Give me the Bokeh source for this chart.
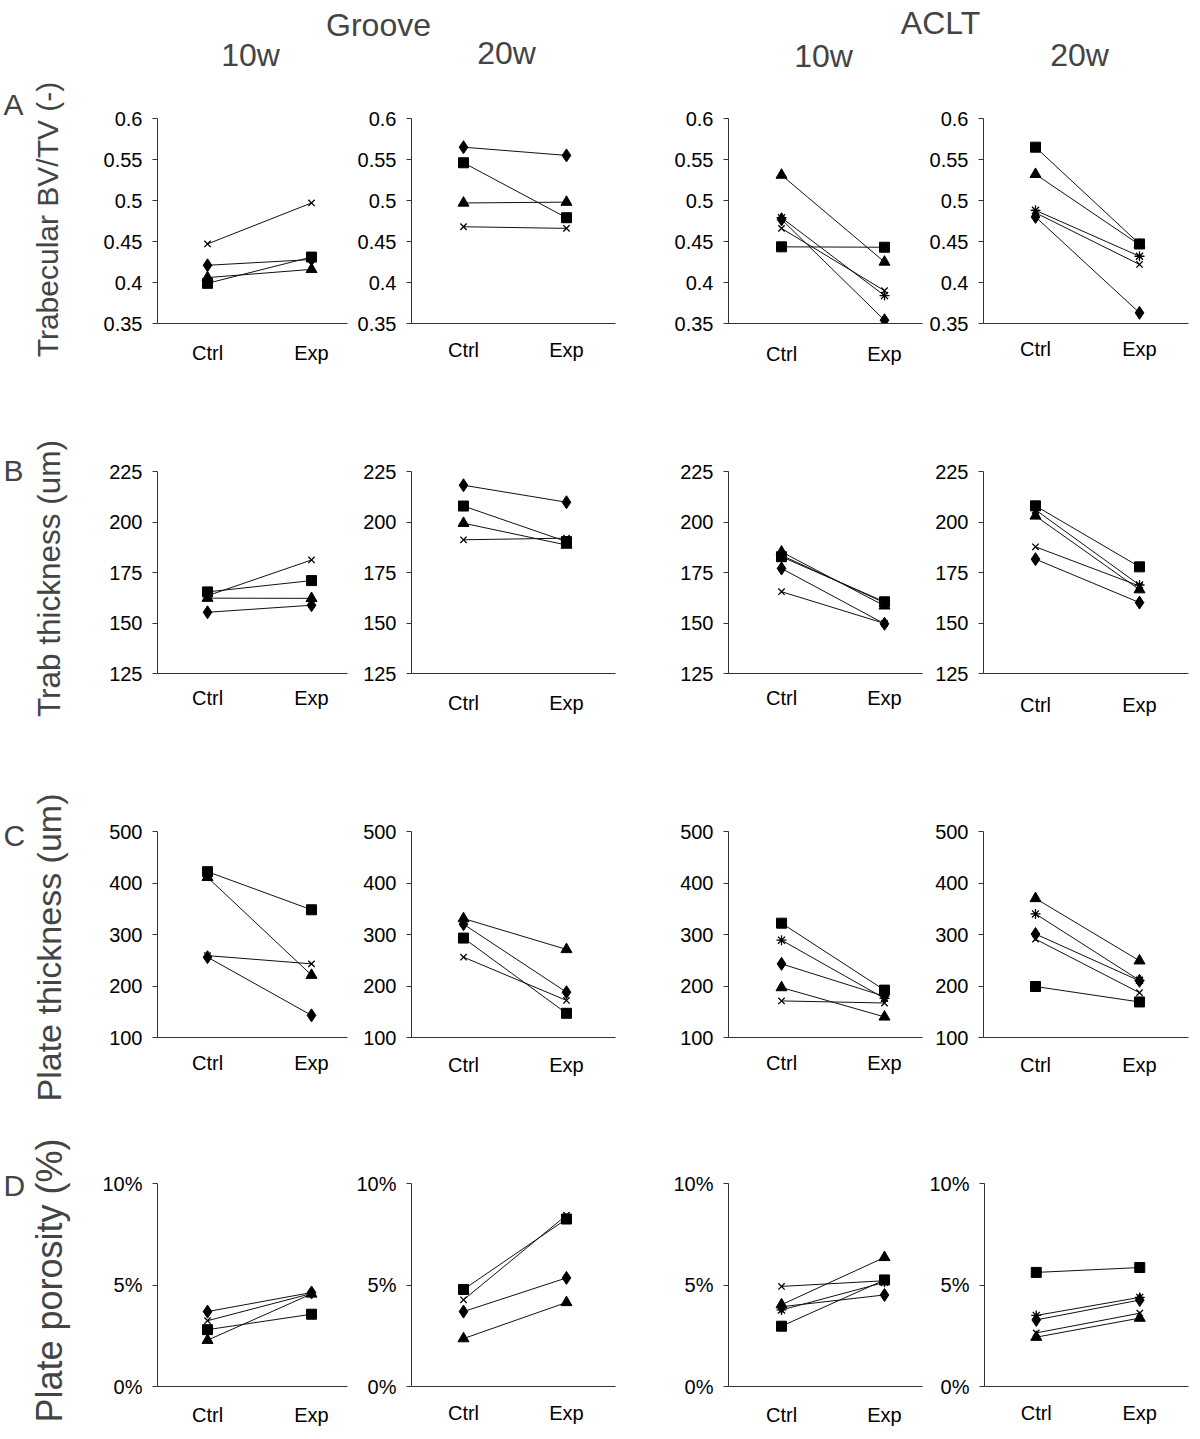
import math
from bokeh.plotting import figure
from bokeh.models import Range1d, FixedTicker, Label
from bokeh.layouts import row, column
from bokeh.embed import file_html
from bokeh.resources import INLINE

FONT = "Liberation Sans"

# ---------------- data ----------------
categories = ["Ctrl", "Exp"]
series_markers = ["diamond", "square", "triangle", "x", "asterisk"]

# Row A: Trabecular BV/TV (-)
bvtv_groove10_ctrl = [0.421, 0.399, 0.406, 0.447]
bvtv_groove10_exp = [0.428, 0.431, 0.416, 0.497]
bvtv_groove20_ctrl = [0.565, 0.546, 0.497, 0.468]
bvtv_groove20_exp = [0.555, 0.479, 0.498, 0.466]
bvtv_aclt10_ctrl = [0.477, 0.4435, 0.531, 0.466, 0.479]
bvtv_aclt10_exp = [0.354, 0.443, 0.425, 0.390, 0.384]
bvtv_aclt20_ctrl = [0.480, 0.565, 0.532, 0.485, 0.488]
bvtv_aclt20_exp = [0.363, 0.447, 0.446, 0.422, 0.432]

# Row B: Trab thickness (um)
tbth_groove10_ctrl = [155.3, 165.4, 162.3, 163.5]
tbth_groove10_exp = [158.8, 171.0, 162.2, 181.2]
tbth_groove20_ctrl = [218.2, 207.9, 199.4, 191.2]
tbth_groove20_exp = [209.8, 190.3, 188.6, 192.0]
tbth_aclt10_ctrl = [177.0, 182.8, 185.2, 165.5, 183.5]
tbth_aclt10_exp = [149.6, 160.5, 158.5, 149.8, 160.0]
tbth_aclt20_ctrl = [181.6, 208.0, 203.0, 187.7, 206.0]
tbth_aclt20_exp = [160.1, 177.8, 166.5, 168.3, 168.8]

# Row C: Plate thickness (um)
plth_groove10_ctrl = [256, 422, 411, 259]
plth_groove10_exp = [143, 348, 221, 243]
plth_groove20_ctrl = [320, 293, 331, 256]
plth_groove20_exp = [188, 147, 271, 172]
plth_aclt10_ctrl = [243, 322, 197, 171, 289]
plth_aclt10_exp = [180, 192, 140, 167, 176]
plth_aclt20_ctrl = [301, 199, 370, 291, 340]
plth_aclt20_exp = [210, 169, 249, 187, 211]

# Row D: Plate porosity (%)
poro_groove10_ctrl = [3.69, 2.80, 2.28, 3.24]
poro_groove10_exp = [4.63, 3.56, 4.56, 4.58]
poro_groove20_ctrl = [3.69, 4.78, 2.36, 4.27]
poro_groove20_exp = [5.35, 8.25, 4.14, 8.44]
poro_aclt10_ctrl = [3.93, 2.97, 4.03, 4.93, 3.77]
poro_aclt10_exp = [4.51, 5.25, 6.36, 5.21, 5.13]
poro_aclt20_ctrl = [3.28, 5.62, 2.43, 2.64, 3.50]
poro_aclt20_exp = [4.26, 5.86, 3.37, 3.61, 4.39]

bvtv_ticks = [0.35, 0.4, 0.45, 0.5, 0.55, 0.6]
bvtv_tick_labels = ["0.35", "0.4", "0.45", "0.5", "0.55", "0.6"]
tbth_ticks = [125, 150, 175, 200, 225]
tbth_tick_labels = ["125", "150", "175", "200", "225"]
plth_ticks = [100, 200, 300, 400, 500]
plth_tick_labels = ["100", "200", "300", "400", "500"]
poro_ticks = [0, 5, 10]
poro_tick_labels = ["0%", "5%", "10%"]

row_titles = ["Trabecular BV/TV (-)", "Trab thickness (um)",
              "Plate thickness (um)", "Plate porosity (%)"]
row_letters = ["A", "B", "C", "D"]
group_names = ["Groove", "ACLT"]
time_names = ["10w", "20w"]

# ---------------- layout constants ----------------
# per column: fig width, border left, border right, x range start, x range end
COLS = [
    (262, 67, 5, -0.481, 1.346),
    (308, 59, 45, -0.505, 1.476),
    (266, 68, 4, -0.515, 1.369),
    (266, 57, 4, -0.500, 1.471),
]
# per row: fig height, per column (border top, border bottom, x label standoff)
ROWS = [
    (350, [(23, 122, 18), (17, 122, 15), (22, 121, 19), (21, 121, 14)]),
    (355, [(17, 127, 13), (23, 127, 18), (18, 127, 13), (26, 127, 20)]),
    (350, [(28, 113, 14), (29, 113, 16), (30, 113, 14), (31, 113, 16)]),
    (281, [(30, 45, 17), (27, 45, 15), (33, 45, 17), (30, 45, 15)]),
]
MARKER_SIZE = {"diamond": 13, "square": 10, "triangle": 11, "x": 9, "asterisk": 10}
MID = 0.3465  # em fraction between alphabetic baseline and middle of the em box

row_data = [
    ([(bvtv_groove10_ctrl, bvtv_groove10_exp), (bvtv_groove20_ctrl, bvtv_groove20_exp),
      (bvtv_aclt10_ctrl, bvtv_aclt10_exp), (bvtv_aclt20_ctrl, bvtv_aclt20_exp)],
     bvtv_ticks, bvtv_tick_labels),
    ([(tbth_groove10_ctrl, tbth_groove10_exp), (tbth_groove20_ctrl, tbth_groove20_exp),
      (tbth_aclt10_ctrl, tbth_aclt10_exp), (tbth_aclt20_ctrl, tbth_aclt20_exp)],
     tbth_ticks, tbth_tick_labels),
    ([(plth_groove10_ctrl, plth_groove10_exp), (plth_groove20_ctrl, plth_groove20_exp),
      (plth_aclt10_ctrl, plth_aclt10_exp), (plth_aclt20_ctrl, plth_aclt20_exp)],
     plth_ticks, plth_tick_labels),
    ([(poro_groove10_ctrl, poro_groove10_exp), (poro_groove20_ctrl, poro_groove20_exp),
      (poro_aclt10_ctrl, poro_aclt10_exp), (poro_aclt20_ctrl, poro_aclt20_exp)],
     poro_ticks, poro_tick_labels),
]


def make_panel(ctrl, exp, ticks, tick_labels, col, rowinfo, height):
    width, bl, br, xs0, xs1 = col
    bt, bb, xstd = rowinfo
    p = figure(width=width, height=height,
               x_range=Range1d(xs0, xs1), y_range=Range1d(ticks[0], ticks[-1]),
               output_backend="svg", toolbar_location=None,
               min_border_left=bl, min_border_right=br,
               min_border_top=bt, min_border_bottom=bb)
    p.outline_line_color = None
    p.background_fill_color = "white"
    p.border_fill_color = "white"
    p.xgrid.visible = False
    p.ygrid.visible = False

    xs = list(range(len(categories)))
    p.xaxis.ticker = FixedTicker(ticks=xs, minor_ticks=[])
    p.xaxis.major_label_overrides = {i: c for i, c in enumerate(categories)}
    p.xaxis.major_tick_out = 0
    p.xaxis.major_tick_in = 0
    p.xaxis.minor_tick_out = 0
    p.xaxis.major_label_standoff = xstd

    p.yaxis.ticker = FixedTicker(ticks=ticks, minor_ticks=[])
    p.yaxis.major_label_overrides = {t: l for t, l in zip(ticks, tick_labels)}
    p.yaxis.major_tick_out = 5
    p.yaxis.major_tick_in = 0
    p.yaxis.minor_tick_out = 0
    p.yaxis.major_label_standoff = 10

    for ax in (p.xaxis[0], p.yaxis[0]):
        ax.axis_line_color = "#333333"
        ax.axis_line_width = 1
        ax.major_tick_line_color = "#333333"
        ax.major_label_text_font = FONT
        ax.major_label_text_font_size = "20px"
        ax.major_label_text_color = "black"

    for i, (c, e) in enumerate(zip(ctrl, exp)):
        m = series_markers[i]
        p.line(xs, [c, e], line_color="#111111", line_width=1)
        p.scatter(xs, [c, e], marker=m, size=MARKER_SIZE[m],
                  fill_color="black", line_color="black",
                  line_width=1.3 if m in ("x", "asterisk") else 1)
    return p


panel_rows = []
for r, (height, rinfo) in enumerate(ROWS):
    pairs, ticks, tlabels = row_data[r]
    figs = [make_panel(pairs[c][0], pairs[c][1], ticks, tlabels, COLS[c], rinfo[c], height)
            for c in range(4)]
    panel_rows.append(row(figs, spacing=0))

# header figure (coordinates = page pixels)
header = figure(width=1102, height=95, x_range=Range1d(90, 1192), y_range=Range1d(95, 0),
                output_backend="svg", toolbar_location=None, min_border=0,
                x_axis_type=None, y_axis_type=None)
header.outline_line_color = None
header.xgrid.visible = False
header.ygrid.visible = False
HEAD_SIZE = 32
head_pos = [(378, 36), (940, 34)]
for name, (hx, hy) in zip(group_names, head_pos):
    header.add_layout(Label(x=hx, y=hy - MID * HEAD_SIZE, text=name, text_font=FONT,
                            text_font_size=f"{HEAD_SIZE}px",
                            text_align="center", text_baseline="middle"))
time_pos = [(250, 66), (506, 64), (823, 67), (1079, 66)]
for k, (tx, ty) in enumerate(time_pos):
    header.add_layout(Label(x=tx, y=ty - MID * HEAD_SIZE, text=time_names[k % 2], text_font=FONT,
                            text_font_size=f"{HEAD_SIZE}px", text_align="center",
                            text_baseline="middle"))

# left column with row letters and y titles (coordinates = page pixels)
left = figure(width=90, height=1431, x_range=Range1d(0, 90), y_range=Range1d(1431, 0),
              output_backend="svg", toolbar_location=None, min_border=0,
              x_axis_type=None, y_axis_type=None)
left.outline_line_color = None
left.xgrid.visible = False
left.ygrid.visible = False
LETTER_SIZE = 30
letter_y = [114, 480, 845, 1195]
title_y = [219, 578, 947, 1280]
title_base_x = [57, 59, 60, 61]
title_size = [30, 31.5, 34, 36]
for k in range(4):
    left.add_layout(Label(x=3, y=letter_y[k] - MID * LETTER_SIZE, text=row_letters[k],
                          text_font=FONT, text_font_size=f"{LETTER_SIZE}px",
                          text_align="left", text_baseline="middle"))
    left.add_layout(Label(x=title_base_x[k] - MID * title_size[k], y=title_y[k],
                          text=row_titles[k], text_font=FONT,
                          text_font_size=f"{title_size[k]}px", text_align="center",
                          text_baseline="middle", angle=math.pi / 2))

layout = row([left, column([header] + panel_rows, spacing=0)], spacing=0)

open("out.html", "w").write(file_html(layout, INLINE))
